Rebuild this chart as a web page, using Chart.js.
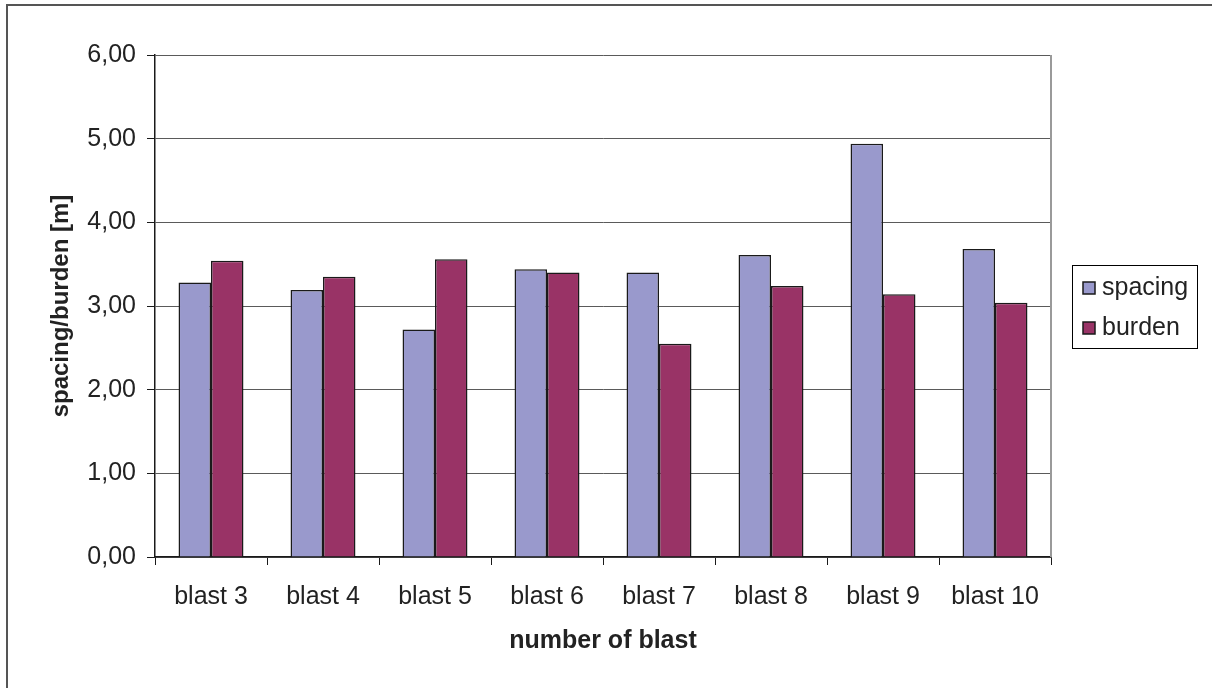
<!DOCTYPE html>
<html>
<head>
<meta charset="utf-8">
<title>spacing/burden per blast</title>
<script src="https://cdn.jsdelivr.net/npm/chart.js@4/dist/chart.umd.min.js"></script>
<style>
  html, body { margin: 0; padding: 0; background: #ffffff; }
  canvas { display: block; }
</style>
</head>
<body>
<canvas id="chart" width="1212" height="688"></canvas>
<script>
// Blast numbers along the x axis
const categories = ['blast 3', 'blast 4', 'blast 5', 'blast 6', 'blast 7', 'blast 8', 'blast 9', 'blast 10'];
// Hole spacing per blast [m]
const spacing = [3.28, 3.19, 2.72, 3.44, 3.40, 3.61, 4.94, 3.68];
// Burden per blast [m]
const burden = [3.54, 3.35, 3.56, 3.40, 2.55, 3.24, 3.14, 3.04];
// Value axis ticks
const yTicks = [0, 1, 2, 3, 4, 5, 6];

const FONT = "'Liberation Sans', Arial, sans-serif";
const TEXT = '#222222';

// Grey plot-area frame, outer figure frame and the boxed legend
const framePlugin = {
  id: 'frames',
  beforeDatasetsDraw(chart) {
    const { ctx, chartArea: a } = chart;
    ctx.save();
    ctx.strokeStyle = '#9a9a9a';
    ctx.lineWidth = 2;
    ctx.beginPath();
    ctx.moveTo(a.right, a.top);
    ctx.lineTo(a.right, a.bottom);
    ctx.stroke();
    ctx.restore();
  },
  afterDraw(chart) {
    const { ctx } = chart;
    ctx.save();
    // outer frame
    ctx.strokeStyle = '#555555';
    ctx.lineWidth = 2;
    ctx.strokeRect(7, 5, 1300, 800);
    // legend box
    ctx.strokeStyle = '#000000';
    ctx.lineWidth = 1;
    ctx.strokeRect(1072.5, 265.5, 125, 83);
    ctx.font = '25px ' + FONT;
    ctx.textBaseline = 'middle';
    ctx.textAlign = 'left';
    chart.data.datasets.forEach((ds, i) => {
      const y = 288 + i * 40;
      ctx.fillStyle = ds.backgroundColor;
      ctx.fillRect(1083, y - 6, 12, 12);
      ctx.strokeStyle = '#1a1a1a';
      ctx.lineWidth = 1.5;
      ctx.strokeRect(1083, y - 6, 12, 12);
      ctx.fillStyle = TEXT;
      ctx.fillText(ds.label, 1102, y);
    });
    ctx.restore();
  }
};

new Chart(document.getElementById('chart'), {
  type: 'bar',
  data: {
    labels: categories,
    datasets: [
      { label: 'spacing', data: spacing, backgroundColor: '#9999cc', borderColor: '#1a1a1a', borderWidth: 1.5 },
      { label: 'burden', data: burden, backgroundColor: '#993366', borderColor: '#1a1a1a', borderWidth: 1.5 }
    ]
  },
  options: {
    responsive: false,
    animation: false,
    devicePixelRatio: 1,
    categoryPercentage: 0.58,
    barPercentage: 1.0,
    layout: { padding: { left: 40, top: 55, right: 161, bottom: 31 } },
    plugins: {
      legend: { display: false },
      tooltip: { enabled: false }
    },
    scales: {
      x: {
        offset: true,
        afterFit(scale) { scale.height = 100; },
        grid: {
          offset: true,
          drawOnChartArea: false,
          drawTicks: true,
          tickLength: 8,
          tickColor: '#1a1a1a'
        },
        border: { display: true, color: '#1a1a1a', width: 1.5 },
        ticks: {
          color: TEXT,
          font: { family: FONT, size: 25 },
          padding: 17,
          maxRotation: 0,
          autoSkip: false
        },
        title: {
          display: true,
          text: 'number of blast',
          color: TEXT,
          font: { family: FONT, size: 25, weight: 'bold' },
          padding: { top: 0, bottom: 1 }
        }
      },
      y: {
        min: yTicks[0],
        max: yTicks[yTicks.length - 1],
        afterFit(scale) { scale.width = 115; },
        afterBuildTicks(scale) { scale.ticks = yTicks.map(v => ({ value: v })); },
        grid: {
          color: '#5a5a5a',
          lineWidth: 1,
          drawTicks: true,
          tickLength: 8,
          tickColor: '#1a1a1a'
        },
        border: { display: true, color: '#1a1a1a', width: 1.5 },
        ticks: {
          color: TEXT,
          font: { family: FONT, size: 25 },
          padding: 11,
          callback: v => v.toFixed(2).replace('.', ',')
        },
        title: {
          display: true,
          text: 'spacing/burden [m]',
          color: TEXT,
          font: { family: FONT, size: 24, weight: 'bold' },
          padding: { top: 7, bottom: 0 }
        }
      }
    }
  },
  plugins: [framePlugin]
});
</script>
</body>
</html>
